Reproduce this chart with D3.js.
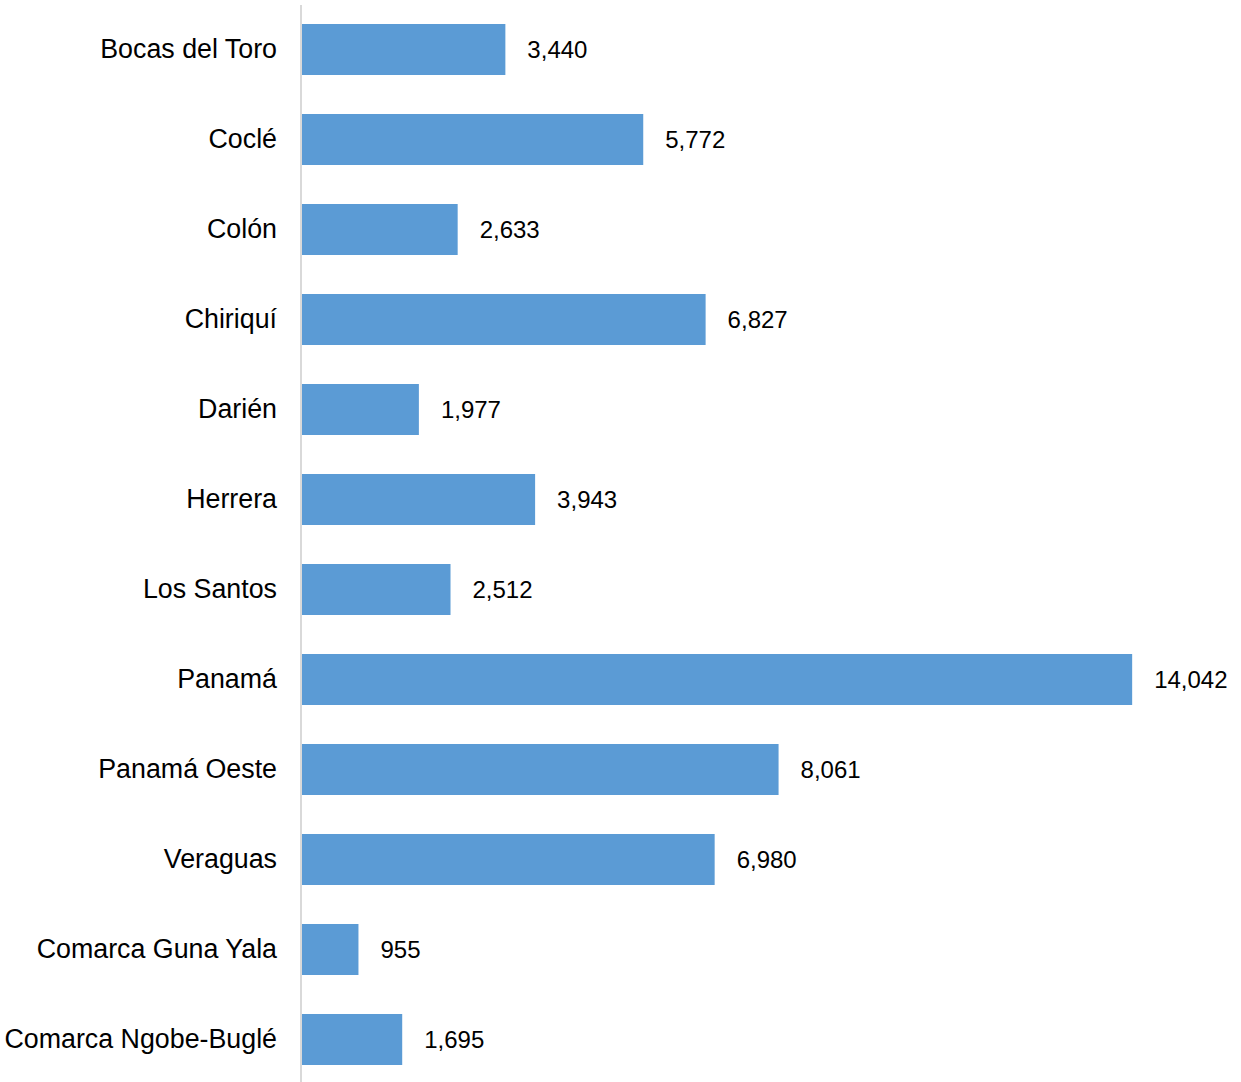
<!DOCTYPE html>
<html>
<head>
<meta charset="utf-8">
<script src="https://cdn.jsdelivr.net/npm/d3@7"></script>
<style>
  html, body { margin: 0; padding: 0; background: #fff; }
  svg { display: block; }
</style>
</head>
<body>
<svg id="chart" width="1241" height="1082"></svg>
<script>
const categories = ["Bocas del Toro", "Coclé", "Colón", "Chiriquí", "Darién", "Herrera", "Los Santos", "Panamá", "Panamá Oeste", "Veraguas", "Comarca Guna Yala", "Comarca Ngobe-Buglé"];
const values = [3440, 5772, 2633, 6827, 1977, 3943, 2512, 14042, 8061, 6980, 955, 1695];

const svg = d3.select("#chart");
const left = 302;
const x = d3.scaleLinear().domain([0, 15000]).range([left, left + 15000 * 0.05912]);
const y = d3.scaleBand().domain(categories).range([4.5, 1084.5]).paddingInner(0.4333).paddingOuter(0.21667);

const data = categories.map((c, i) => ({ c, v: values[i] }));

svg.selectAll("rect.bar").data(data).enter().append("rect")
  .attr("class", "bar")
  .attr("x", x(0))
  .attr("y", d => y(d.c))
  .attr("width", d => x(d.v) - x(0))
  .attr("height", y.bandwidth())
  .attr("fill", "#5b9bd5");

// category axis
const yAxis = d3.axisLeft(y).tickSize(0).tickPadding(24);
const ga = svg.append("g").attr("transform", `translate(${left - 1},0)`).call(yAxis);
ga.select(".domain").remove();
ga.selectAll("text")
  .attr("font-family", "Liberation Sans, Arial, sans-serif")
  .attr("font-size", "26.8px")
  .attr("fill", "#000")
  .attr("dy", "0.32em");

svg.append("line")
  .attr("x1", left - 1).attr("x2", left - 1)
  .attr("y1", 5).attr("y2", 1082)
  .attr("stroke", "#d9d9d9").attr("stroke-width", 2);

const fmt = d3.format(",");
svg.selectAll("text.val").data(data).enter().append("text")
  .attr("class", "val")
  .attr("x", d => x(d.v) + 22)
  .attr("y", d => y(d.c) + y.bandwidth() / 2)
  .attr("dy", "0.34em")
  .attr("font-family", "Liberation Sans, Arial, sans-serif")
  .attr("font-size", "24px")
  .attr("fill", "#000")
  .text(d => fmt(d.v));
</script>
</body>
</html>
